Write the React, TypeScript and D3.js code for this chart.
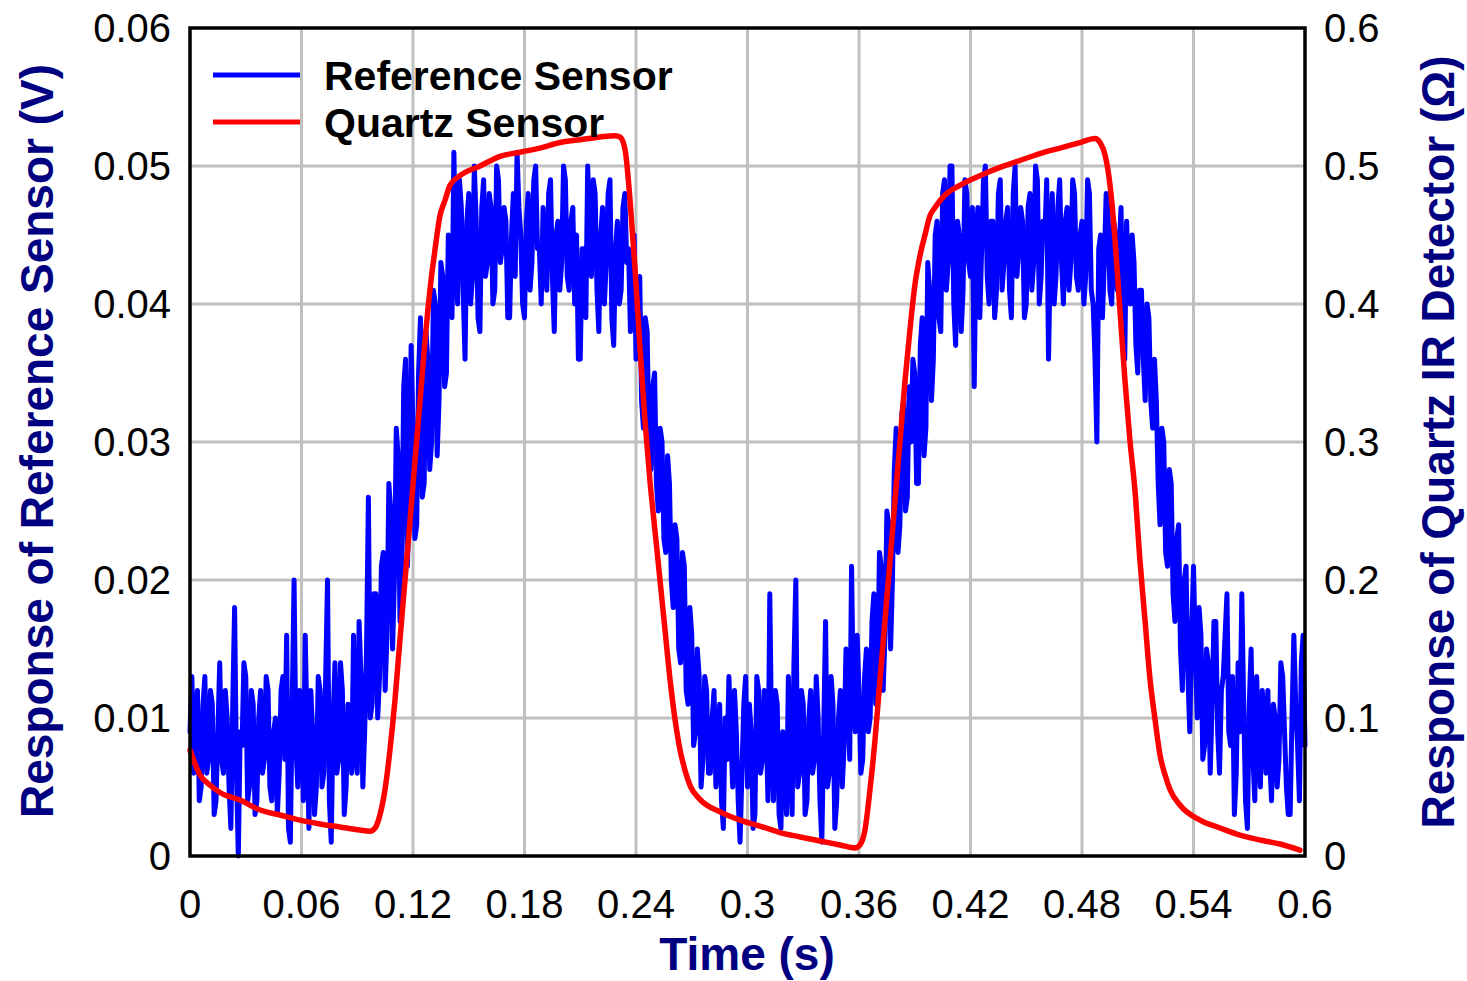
import React from "react";
import * as d3 from "d3";

// Reference sensor output (V), sampled every 1 ms from t = 0 to 0.6 s (one row = 10 ms)
const SAMPLE_STEP = 0.001;
const referenceVolts: number[] = [
  0.009, 0.013, 0.006, 0.010, 0.012, 0.004, 0.005, 0.011, 0.013, 0.006,
  0.007, 0.012, 0.011, 0.003, 0.004, 0.009, 0.014, 0.007, 0.006, 0.012,
  0.010, 0.005, 0.002, 0.011, 0.018, 0.006, 0.000, 0.009, 0.008, 0.014,
  0.013, 0.004, 0.005, 0.012, 0.011, 0.003, 0.004, 0.010, 0.012, 0.006,
  0.007, 0.013, 0.012, 0.005, 0.004, 0.009, 0.010, 0.003, 0.006, 0.012,
  0.013, 0.007, 0.016, 0.002, 0.001, 0.011, 0.020, 0.008, 0.005, 0.012,
  0.011, 0.004, 0.016, 0.009, 0.002, 0.012, 0.009, 0.003, 0.005, 0.013,
  0.012, 0.005, 0.006, 0.013, 0.020, 0.004, 0.001, 0.010, 0.014, 0.006,
  0.007, 0.014, 0.012, 0.003, 0.005, 0.011, 0.010, 0.006, 0.016, 0.008,
  0.006, 0.017, 0.013, 0.005, 0.009, 0.015, 0.026, 0.010, 0.011, 0.019,
  0.019, 0.010, 0.013, 0.021, 0.022, 0.012, 0.016, 0.027, 0.025, 0.015,
  0.020, 0.031, 0.029, 0.017, 0.022, 0.034, 0.036, 0.021, 0.026, 0.037,
  0.031, 0.023, 0.024, 0.035, 0.039, 0.026, 0.027, 0.038, 0.036, 0.028,
  0.030, 0.041, 0.040, 0.029, 0.033, 0.043, 0.042, 0.034, 0.035, 0.045,
  0.044, 0.039, 0.051, 0.043, 0.040, 0.049, 0.047, 0.041, 0.036, 0.046,
  0.048, 0.040, 0.042, 0.050, 0.046, 0.039, 0.038, 0.047, 0.049, 0.042,
  0.043, 0.048, 0.047, 0.040, 0.041, 0.050, 0.049, 0.043, 0.044, 0.047,
  0.046, 0.039, 0.039, 0.045, 0.048, 0.042, 0.051, 0.047, 0.045, 0.040,
  0.039, 0.046, 0.048, 0.041, 0.043, 0.049, 0.050, 0.044, 0.044, 0.040,
  0.047, 0.043, 0.041, 0.048, 0.049, 0.042, 0.038, 0.045, 0.046, 0.041,
  0.043, 0.050, 0.049, 0.042, 0.041, 0.046, 0.047, 0.040, 0.045, 0.036,
  0.036, 0.044, 0.044, 0.039, 0.050, 0.046, 0.042, 0.049, 0.048, 0.041,
  0.038, 0.045, 0.047, 0.040, 0.043, 0.048, 0.049, 0.039, 0.037, 0.044,
  0.046, 0.040, 0.041, 0.047, 0.048, 0.043, 0.044, 0.038, 0.042, 0.045,
  0.036, 0.040, 0.042, 0.033, 0.031, 0.039, 0.038, 0.030, 0.028, 0.034,
  0.035, 0.027, 0.025, 0.031, 0.030, 0.023, 0.022, 0.029, 0.027, 0.020,
  0.018, 0.024, 0.023, 0.015, 0.014, 0.022, 0.021, 0.012, 0.011, 0.018,
  0.016, 0.008, 0.009, 0.015, 0.013, 0.005, 0.007, 0.013, 0.012, 0.006,
  0.006, 0.010, 0.012, 0.005, 0.008, 0.011, 0.004, 0.002, 0.010, 0.007,
  0.013, 0.009, 0.005, 0.012, 0.009, 0.004, 0.001, 0.006, 0.011, 0.013,
  0.005, 0.011, 0.009, 0.002, 0.003, 0.013, 0.012, 0.006, 0.007, 0.012,
  0.010, 0.004, 0.019, 0.008, 0.004, 0.012, 0.011, 0.003, 0.002, 0.009,
  0.008, 0.003, 0.013, 0.007, 0.003, 0.014, 0.020, 0.005, 0.006, 0.012,
  0.011, 0.003, 0.004, 0.010, 0.012, 0.006, 0.007, 0.013, 0.010, 0.004,
  0.001, 0.009, 0.017, 0.005, 0.006, 0.013, 0.011, 0.002, 0.004, 0.010,
  0.012, 0.005, 0.008, 0.015, 0.013, 0.007, 0.021, 0.011, 0.009, 0.016,
  0.012, 0.006, 0.007, 0.013, 0.015, 0.009, 0.010, 0.017, 0.019, 0.011,
  0.013, 0.022, 0.021, 0.012, 0.016, 0.025, 0.024, 0.015, 0.020, 0.028,
  0.031, 0.022, 0.024, 0.032, 0.033, 0.025, 0.026, 0.034, 0.030, 0.036,
  0.035, 0.027, 0.027, 0.037, 0.039, 0.029, 0.031, 0.043, 0.041, 0.033,
  0.036, 0.045, 0.046, 0.039, 0.038, 0.048, 0.049, 0.041, 0.043, 0.050,
  0.050, 0.040, 0.037, 0.046, 0.045, 0.038, 0.041, 0.049, 0.048, 0.043,
  0.042, 0.047, 0.034, 0.045, 0.047, 0.039, 0.044, 0.049, 0.050, 0.042,
  0.040, 0.046, 0.046, 0.039, 0.041, 0.048, 0.049, 0.041, 0.043, 0.046,
  0.047, 0.041, 0.039, 0.048, 0.050, 0.042, 0.044, 0.047, 0.046, 0.039,
  0.040, 0.047, 0.048, 0.041, 0.043, 0.050, 0.049, 0.040, 0.042, 0.046,
  0.045, 0.049, 0.036, 0.044, 0.048, 0.040, 0.042, 0.047, 0.049, 0.043,
  0.040, 0.046, 0.047, 0.041, 0.043, 0.049, 0.048, 0.042, 0.041, 0.045,
  0.046, 0.040, 0.042, 0.049, 0.048, 0.041, 0.040, 0.036, 0.030, 0.044,
  0.045, 0.039, 0.043, 0.048, 0.047, 0.041, 0.040, 0.046, 0.045, 0.041,
  0.044, 0.047, 0.038, 0.036, 0.046, 0.042, 0.040, 0.045, 0.043, 0.037,
  0.035, 0.041, 0.041, 0.036, 0.033, 0.040, 0.039, 0.033, 0.031, 0.036,
  0.033, 0.027, 0.024, 0.031, 0.030, 0.022, 0.021, 0.028, 0.027, 0.019,
  0.017, 0.023, 0.024, 0.015, 0.012, 0.020, 0.021, 0.013, 0.009, 0.016,
  0.021, 0.015, 0.010, 0.018, 0.016, 0.007, 0.008, 0.015, 0.014, 0.006,
  0.011, 0.017, 0.017, 0.009, 0.006, 0.012, 0.013, 0.016, 0.019, 0.009,
  0.008, 0.013, 0.003, 0.006, 0.014, 0.009, 0.019, 0.011, 0.004, 0.002,
  0.011, 0.015, 0.007, 0.004, 0.013, 0.008, 0.005, 0.012, 0.010, 0.006,
  0.012, 0.007, 0.004, 0.011, 0.010, 0.005, 0.007, 0.014, 0.013, 0.009,
  0.005, 0.003, 0.003, 0.010, 0.016, 0.011, 0.008, 0.004, 0.014, 0.016,
  0.008,
];

// Quartz IR detector response (Ω) against time (s)
const quartzTimes: number[] = [
  0, 0.0054, 0.0108, 0.0161, 0.0269, 0.0377, 0.0484, 0.0592, 0.070, 0.0807,
  0.0915, 0.0969, 0.0996, 0.1022, 0.1049, 0.1076, 0.1103, 0.113, 0.1157, 0.1184,
  0.1211, 0.1238, 0.1265, 0.1291, 0.1318, 0.1345, 0.1372, 0.1399, 0.1453, 0.1561,
  0.1668, 0.1776, 0.1883, 0.1991, 0.2099, 0.2206, 0.2287, 0.2314, 0.2341, 0.2368,
  0.2395, 0.2422, 0.2448, 0.2475, 0.2502, 0.2529, 0.2556, 0.2583, 0.261, 0.2637,
  0.2664, 0.2691, 0.2744, 0.2852, 0.296, 0.3067, 0.3175, 0.3283, 0.339, 0.3498,
  0.3578, 0.3605, 0.3632, 0.3659, 0.3686, 0.3713, 0.374, 0.3767, 0.3794, 0.3821,
  0.3848, 0.3874, 0.3901, 0.3928, 0.3955, 0.3982, 0.4009, 0.4063, 0.4143, 0.4251,
  0.4359, 0.4466, 0.4574, 0.4682, 0.4789, 0.487, 0.4897, 0.4924, 0.4951, 0.4978,
  0.5004, 0.5031, 0.5058, 0.5085, 0.5112, 0.5139, 0.5166, 0.5193, 0.522, 0.5247,
  0.5274, 0.5327, 0.5435, 0.5543, 0.565, 0.5758, 0.5865, 0.5973,
];
const quartzOhms: number[] = [
  0.0768, 0.0587, 0.0514, 0.046, 0.0406, 0.0333, 0.0297, 0.026, 0.0232, 0.021,
  0.0188, 0.018, 0.0203, 0.0297, 0.0478, 0.0768, 0.113, 0.157, 0.2, 0.243,
  0.287, 0.330, 0.374, 0.41, 0.439, 0.464, 0.475, 0.486, 0.493, 0.5,
  0.507, 0.51, 0.513, 0.517, 0.519, 0.521, 0.522, 0.521, 0.512, 0.475,
  0.425, 0.367, 0.316, 0.272, 0.236, 0.2, 0.164, 0.128, 0.099, 0.0768,
  0.062, 0.051, 0.041, 0.032, 0.026, 0.0217, 0.017, 0.0138, 0.0109, 0.008,
  0.0058, 0.008, 0.0188, 0.048, 0.084, 0.128, 0.171, 0.214, 0.258, 0.301,
  0.345, 0.381, 0.414, 0.435, 0.45, 0.464, 0.47, 0.479, 0.486, 0.493,
  0.499, 0.504, 0.509, 0.513, 0.517, 0.52, 0.517, 0.508, 0.486, 0.446,
  0.396, 0.345, 0.301, 0.265, 0.214, 0.171, 0.128, 0.099, 0.073, 0.0587,
  0.048, 0.037, 0.026, 0.0203, 0.0152, 0.0116, 0.0087, 0.0043,
];

const timeTicks: number[] = [0, 0.06, 0.12, 0.18, 0.24, 0.3, 0.36, 0.42, 0.48, 0.54, 0.6];
const voltTicks: number[] = [0, 0.01, 0.02, 0.03, 0.04, 0.05, 0.06];
const ohmTicks: number[] = [0, 0.1, 0.2, 0.3, 0.4, 0.5, 0.6];

const seriesNames = ["Reference Sensor", "Quartz Sensor"];
const seriesColors = ["#0000ff", "#ff0000"];

const W = 1467;
const H = 981;
const plot = { left: 190, right: 1305, top: 28, bottom: 856 };
const FONT = "'Liberation Sans', Arial, Helvetica, sans-serif";
const NAVY = "#000080";

export default function App() {
  const x = d3.scaleLinear().domain([0, 0.6]).range([plot.left, plot.right]);
  const yV = d3.scaleLinear().domain([0, 0.06]).range([plot.bottom, plot.top]);
  const yO = d3.scaleLinear().domain([0, 0.6]).range([plot.bottom, plot.top]);

  const refPoints = referenceVolts.map((v, i) => [i * SAMPLE_STEP, v] as [number, number]);
  const quartzPoints = quartzTimes.map((t, i) => [t, quartzOhms[i]] as [number, number]);

  const refPath = d3
    .line<[number, number]>()
    .x((d) => x(d[0]))
    .y((d) => yV(d[1]))(refPoints);
  const quartzPath = d3
    .line<[number, number]>()
    .x((d) => x(d[0]))
    .y((d) => yO(d[1]))
    .curve(d3.curveMonotoneX)(quartzPoints);

  const fmtTime = (t: number) => (t === 0 ? "0" : d3.format("~g")(+t.toFixed(2)));
  const fmtV = (v: number) => (v === 0 ? "0" : v.toFixed(2));
  const fmtO = (v: number) => (v === 0 ? "0" : v.toFixed(1));

  return (
    <svg
      width={W}
      height={H}
      style={{ position: "absolute", left: 0, top: 0, background: "#fff" }}
      fontFamily={FONT}
    >
      <rect x={0} y={0} width={W} height={H} fill="#fff" />

      {/* grid */}
      <g stroke="#c0c0c0" strokeWidth={3}>
        {timeTicks.slice(1, -1).map((t) => (
          <line key={"gx" + t} x1={x(t)} x2={x(t)} y1={plot.top} y2={plot.bottom} />
        ))}
        {voltTicks.slice(1, -1).map((v) => (
          <line key={"gy" + v} x1={plot.left} x2={plot.right} y1={yV(v)} y2={yV(v)} />
        ))}
      </g>

      {/* data */}
      <path
        d={refPath || ""}
        fill="none"
        stroke={seriesColors[0]}
        strokeWidth={5}
        strokeLinejoin="round"
        strokeLinecap="round"
      />
      <path
        d={quartzPath || ""}
        fill="none"
        stroke={seriesColors[1]}
        strokeWidth={5.5}
        strokeLinejoin="round"
        strokeLinecap="round"
      />

      {/* frame */}
      <rect
        x={plot.left}
        y={plot.top}
        width={plot.right - plot.left}
        height={plot.bottom - plot.top}
        fill="none"
        stroke="#000"
        strokeWidth={3.5}
      />

      {/* bottom tick labels */}
      <g fontSize={40} fill="#000" textAnchor="middle">
        {timeTicks.map((t) => (
          <text key={"tx" + t} x={x(t)} y={918}>
            {fmtTime(t)}
          </text>
        ))}
      </g>

      {/* left tick labels */}
      <g fontSize={40} fill="#000" textAnchor="end">
        {voltTicks.map((v) => (
          <text key={"ty" + v} x={171} y={yV(v) + 14}>
            {fmtV(v)}
          </text>
        ))}
      </g>

      {/* right tick labels */}
      <g fontSize={40} fill="#000" textAnchor="start">
        {ohmTicks.map((v) => (
          <text key={"to" + v} x={1324} y={yO(v) + 14}>
            {fmtO(v)}
          </text>
        ))}
      </g>

      {/* axis titles */}
      <text x={747} y={970} fontSize={46} fontWeight="bold" fill={NAVY} textAnchor="middle">
        Time (s)
      </text>
      <text
        transform={`translate(53, 441) rotate(-90)`}
        fontSize={46}
        fontWeight="bold"
        fill={NAVY}
        textAnchor="middle"
      >
        Response of Reference Sensor (V)
      </text>
      <text
        transform={`translate(1454, 442) rotate(-90)`}
        fontSize={46}
        fontWeight="bold"
        fill={NAVY}
        textAnchor="middle"
      >
        Response of Quartz IR Detector (Ω)
      </text>

      {/* legend */}
      {seriesNames.map((name, i) => (
        <g key={name}>
          <line
            x1={213}
            x2={300}
            y1={75 + i * 47}
            y2={75 + i * 47}
            stroke={seriesColors[i]}
            strokeWidth={5}
          />
          <text x={324} y={90 + i * 47} fontSize={41} fontWeight="bold" fill="#000">
            {name}
          </text>
        </g>
      ))}
    </svg>
  );
}
